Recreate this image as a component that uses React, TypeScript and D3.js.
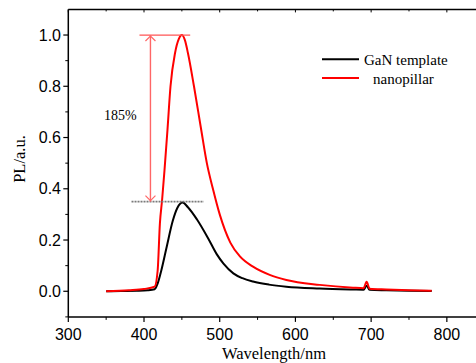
import React from "react";
import * as d3 from "d3";

// wavelength (nm) and PL intensity (a.u.)
const ganWavelength = [350, 370, 390, 405, 414, 418, 423, 430, 438, 444, 451, 458, 470, 485, 496, 505, 518, 530, 544, 565, 588, 632, 676, 690, 694, 698, 720, 750, 780];
const ganIntensity = [0.0, 0.001, 0.002, 0.004, 0.008, 0.03, 0.083, 0.174, 0.275, 0.325, 0.346, 0.328, 0.28, 0.205, 0.145, 0.108, 0.07, 0.051, 0.038, 0.026, 0.018, 0.011, 0.007, 0.006, 0.022, 0.006, 0.004, 0.002, 0.001];

const pillarWavelength = [350, 380, 400, 414, 418, 421, 424, 427, 431, 435, 441, 446, 450, 454, 458, 466, 475, 483, 491, 500, 514, 527, 544, 566, 588, 632, 676, 690, 694, 698, 720, 750, 780];
const pillarIntensity = [0.0, 0.004, 0.009, 0.018, 0.08, 0.265, 0.36, 0.47, 0.63, 0.8, 0.93, 0.985, 1.0, 0.98, 0.93, 0.8, 0.64, 0.5, 0.4, 0.3, 0.19, 0.135, 0.096, 0.064, 0.044, 0.025, 0.014, 0.012, 0.037, 0.01, 0.007, 0.004, 0.002];

const xTicks = [300, 400, 500, 600, 700, 800];
const xMinor = [350, 450, 550, 650, 750];
const yTicks = [0.0, 0.2, 0.4, 0.6, 0.8, 1.0];
const yMinor = [-0.1, 0.1, 0.3, 0.5, 0.7, 0.9];

const legend = [
  { label: "GaN template", color: "#000000", dx: 0 },
  { label: "nanopillar", color: "#ff0000", dx: 9 },
];

const W = 476;
const H = 363;

export default function App() {
  const x = d3.scaleLinear().domain([300, 850]).range([68.3, 484.7]);
  const y = d3.scaleLinear().domain([-0.1, 1.1]).range([316.9, 9.4]);

  const line = d3.line<[number, number]>()
    .x((d) => x(d[0]))
    .y((d) => y(d[1]))
    .curve(d3.curveMonotoneX);

  const ganPts = ganWavelength.map((w, i) => [w, ganIntensity[i]] as [number, number]);
  const pillarPts = pillarWavelength.map((w, i) => [w, pillarIntensity[i]] as [number, number]);

  const x0 = x(300);
  const y0 = y(-0.1);
  const yTop = y(1.1);
  const sans = "Arial, 'Liberation Sans', sans-serif";
  const serif = "'Times New Roman', 'Liberation Serif', serif";

  // annotation
  const ax = x(408.5);
  const aTop = y(1.0);
  const aBot = y(0.35);

  return (
    <svg width={W} height={H} style={{ position: "absolute", left: 0, top: 0, background: "#fff" }}>
      {/* frame */}
      <line x1={x0} x2={W + 5} y1={yTop} y2={yTop} stroke="#000" strokeWidth={1.5} />
      <line x1={x0} x2={W + 5} y1={y0} y2={y0} stroke="#000" strokeWidth={1.5} />
      <line x1={x0} x2={x0} y1={yTop} y2={y0} stroke="#000" strokeWidth={1.5} />

      {/* x ticks */}
      {xTicks.map((t) => (
        <g key={"xt" + t}>
          <line x1={x(t)} x2={x(t)} y1={y0} y2={y0 + 5} stroke="#000" strokeWidth={1.2} />
          <line x1={x(t)} x2={x(t)} y1={yTop} y2={yTop + 3} stroke="#000" strokeWidth={1} />
          <text x={x(t)} y={339.5} textAnchor="middle" fontFamily={sans} fontSize={16} fill="#000">{t}</text>
        </g>
      ))}
      {xMinor.map((t) => (
        <g key={"xm" + t}>
          <line x1={x(t)} x2={x(t)} y1={y0} y2={y0 + 3} stroke="#000" strokeWidth={1} />
          <line x1={x(t)} x2={x(t)} y1={yTop} y2={yTop + 2} stroke="#000" strokeWidth={1} />
        </g>
      ))}

      {/* y ticks */}
      {yTicks.map((t) => (
        <g key={"yt" + t}>
          <line x1={x0 - 5} x2={x0} y1={y(t)} y2={y(t)} stroke="#000" strokeWidth={1.2} />
          <text x={61} y={y(t) + 5.6} textAnchor="end" fontFamily={sans} fontSize={16} fill="#000">{t.toFixed(1)}</text>
        </g>
      ))}
      {yMinor.map((t) => (
        <line key={"ym" + t} x1={x0 - 3} x2={x0} y1={y(t)} y2={y(t)} stroke="#000" strokeWidth={1} />
      ))}

      {/* axis titles */}
      <text x={274} y={359} textAnchor="middle" fontFamily={serif} fontSize={16.5} fill="#000">Wavelength/nm</text>
      <text transform={`translate(25,159) rotate(-90)`} textAnchor="middle" fontFamily={serif} fontSize={16.5} fill="#000">PL/a.u.</text>

      {/* curves */}
      <path d={line(ganPts) ?? ""} fill="none" stroke="#000" strokeWidth={2} />
      <path d={line(pillarPts) ?? ""} fill="none" stroke="#ff0000" strokeWidth={2} />

      {/* enhancement annotation */}
      <line x1={x(394)} x2={x(461)} y1={aTop} y2={aTop} stroke="#ff5555" strokeWidth={1.2} />
      <line x1={x(383.5)} x2={x(479)} y1={aBot} y2={aBot} stroke="#7a7a7a" strokeWidth={1.8} strokeDasharray="2,1" />
      <line x1={ax} x2={ax} y1={aTop} y2={aBot} stroke="#ff6666" strokeWidth={1.4} />
      <polyline points={`${ax - 5},${aTop + 6} ${ax},${aTop + 1} ${ax + 5},${aTop + 6}`} fill="none" stroke="#ff6666" strokeWidth={1.2} />
      <polyline points={`${ax - 5},${aBot - 6} ${ax},${aBot - 1} ${ax + 5},${aBot - 6}`} fill="none" stroke="#ff6666" strokeWidth={1.2} />
      <text x={104} y={120} fontFamily={serif} fontSize={14} fill="#000">185%</text>

      {/* legend */}
      {legend.map((d, i) => (
        <g key={d.label}>
          <line x1={322} x2={359} y1={59.3 + i * 18.7} y2={59.3 + i * 18.7} stroke={d.color} strokeWidth={2} />
          <text x={364 + d.dx} y={65 + i * 18.5} fontFamily={serif} fontSize={15} fill="#000">{d.label}</text>
        </g>
      ))}
    </svg>
  );
}
